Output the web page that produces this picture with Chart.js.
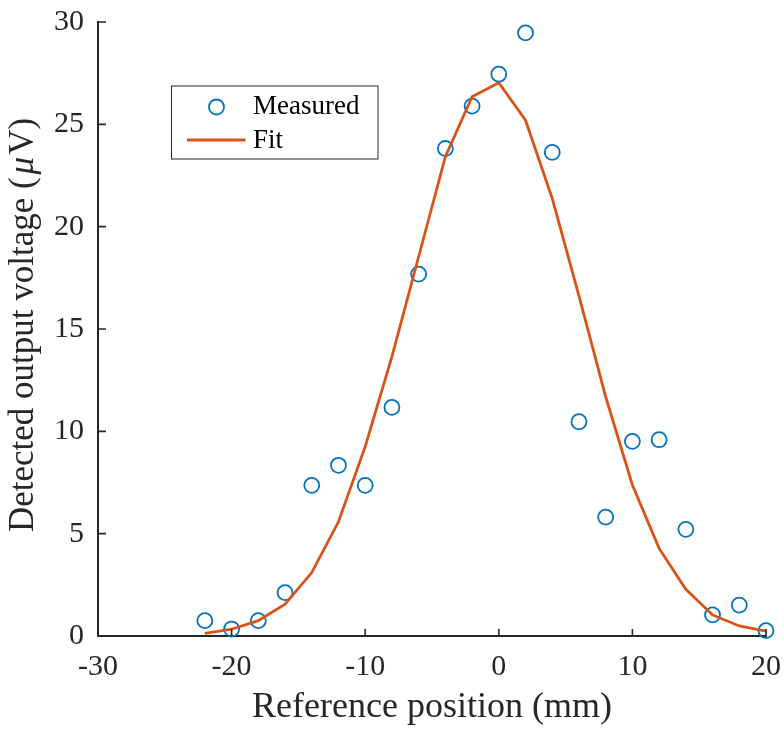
<!DOCTYPE html>
<html>
<head>
<meta charset="utf-8">
<script src="https://cdn.jsdelivr.net/npm/chart.js@4/dist/chart.umd.min.js"></script>
<style>
    html, body { margin: 0; padding: 0; background: #fff; }
    #wrap { width: 784px; height: 730px; }
</style>
</head>
<body>
<div id="wrap"><canvas id="profileChart" width="784" height="730"></canvas></div>
<script>
// posiciones (mm) y lecturas
const positions = [-22, -20, -18, -16, -14, -12, -10, -8, -6, -4, -2, 0, 2, 4, 6, 8, 10, 12, 14, 16, 18, 20];
const measured = [0.75, 0.34, 0.75, 2.12, 7.36, 8.34, 7.36, 11.17, 17.68, 23.82, 25.89, 27.45, 29.47, 23.63, 10.47, 5.81, 9.51, 9.59, 5.21, 1.03, 1.51, 0.26];
const fitted = [0.13, 0.33, 0.75, 1.56, 3.1, 5.58, 9.25, 13.65, 18.53, 23.42, 26.35, 27.03, 25.2, 21.38, 16.62, 11.69, 7.38, 4.28, 2.28, 1.03, 0.49, 0.24];
const xTicks = [-30, -20, -10, 0, 10, 20];
const yTicks = [0, 5, 10, 15, 20, 25, 30];

const SERIF = '"Liberation Serif", "Times New Roman", serif';
const AXIS_COLOR = '#262626';
const BLUE = '#0072BD';
const ORANGE = '#D95319';

// ticks hacia dentro, titulos y leyenda (estilo MATLAB)
const matlabDecor = {
    id: 'matlabDecor',
    afterDraw(chart) {
        const ctx = chart.ctx;
        const area = chart.chartArea;
        const xs = chart.scales.x;
        const ys = chart.scales.y;

        ctx.save();
        ctx.strokeStyle = AXIS_COLOR;
        ctx.lineWidth = 1.6;
        ctx.beginPath();
        xTicks.forEach(v => {
            const px = xs.getPixelForValue(v);
            ctx.moveTo(px, area.bottom);
            ctx.lineTo(px, area.bottom - 7);
        });
        yTicks.forEach(v => {
            const py = ys.getPixelForValue(v);
            ctx.moveTo(area.left, py);
            ctx.lineTo(area.left + 8, py);
        });
        ctx.stroke();

        // titulo eje x
        ctx.fillStyle = AXIS_COLOR;
        ctx.font = '36px ' + SERIF;
        ctx.textAlign = 'center';
        ctx.textBaseline = 'alphabetic';
        ctx.fillText('Reference position (mm)', (area.left + area.right) / 2, 717);

        // titulo eje y, con mu en cursiva
        const parts = [
            { t: 'Detected output voltage (', f: '35px ' + SERIF, gap: 3 },
            { t: 'μ', f: 'italic 35px ' + SERIF, gap: 2 },
            { t: 'V)', f: '35px ' + SERIF, gap: 0 }
        ];
        let total = 0;
        parts.forEach(p => { ctx.font = p.f; p.w = ctx.measureText(p.t).width; total += p.w + p.gap; });
        ctx.translate(33, (area.top + area.bottom) / 2 - 4);
        ctx.rotate(-Math.PI / 2);
        ctx.textAlign = 'left';
        let cx = -total / 2;
        parts.forEach(p => {
            ctx.font = p.f;
            ctx.fillText(p.t, cx, 0);
            cx += p.w + p.gap;
        });
        ctx.restore();

        // leyenda
        const lx = area.left + 73.5, ly = area.top + 64;
        const lw = 206.5, lh = 73;
        ctx.save();
        ctx.fillStyle = '#fff';
        ctx.fillRect(lx, ly, lw, lh);
        ctx.strokeStyle = AXIS_COLOR;
        ctx.lineWidth = 1;
        ctx.strokeRect(lx, ly, lw, lh);

        ctx.strokeStyle = BLUE;
        ctx.lineWidth = 1.8;
        ctx.beginPath();
        ctx.arc(lx + 45, ly + 21, 7.5, 0, Math.PI * 2);
        ctx.stroke();

        ctx.strokeStyle = ORANGE;
        ctx.lineWidth = 2.8;
        ctx.beginPath();
        ctx.moveTo(lx + 15.5, ly + 54);
        ctx.lineTo(lx + 74, ly + 54);
        ctx.stroke();

        ctx.fillStyle = '#000';
        ctx.font = '27px ' + SERIF;
        ctx.textAlign = 'left';
        ctx.textBaseline = 'middle';
        ctx.fillText('Measured', lx + 81.5, ly + 21);
        ctx.fillText('Fit', lx + 81.5, ly + 55);
        ctx.restore();
    }
};

const ctx = document.getElementById('profileChart').getContext('2d');
new Chart(ctx, {
    type: 'scatter',
    data: {
        datasets: [
            {
                label: 'Fit',
                type: 'line',
                data: positions.map((x, i) => ({ x: x, y: fitted[i] })),
                borderColor: ORANGE,
                borderWidth: 2.8,
                pointRadius: 0,
                tension: 0,
                fill: false,
                clip: false,
                order: 0
            },
            {
                label: 'Measured',
                data: positions.map((x, i) => ({ x: x, y: measured[i] })),
                borderColor: BLUE,
                backgroundColor: 'rgba(0,0,0,0)',
                borderWidth: 1.8,
                pointRadius: 7.5,
                pointStyle: 'circle',
                clip: false,
                order: 1
            }
        ]
    },
    options: {
        responsive: false,
        animation: false,
        layout: { padding: { top: 22, right: 18, left: 0, bottom: 0 } },
        plugins: {
            legend: { display: false },
            tooltip: { enabled: false }
        },
        scales: {
            x: {
                type: 'linear',
                min: -30,
                max: 20,
                afterBuildTicks: s => { s.ticks = xTicks.map(v => ({ value: v })); },
                afterFit: s => {
                    s.height = 94;
                    s.paddingLeft = 0;
                    s.paddingRight = 0;
                },
                grid: { display: false, drawTicks: false },
                border: { display: true, color: AXIS_COLOR, width: 2 },
                ticks: {
                    color: AXIS_COLOR,
                    font: { family: SERIF, size: 30 },
                    padding: 13,
                    maxRotation: 0
                }
            },
            y: {
                type: 'linear',
                min: 0,
                max: 30,
                afterBuildTicks: s => { s.ticks = yTicks.map(v => ({ value: v })); },
                afterFit: s => {
                    s.width = 98;
                    s.paddingTop = 0;
                    s.paddingBottom = 0;
                },
                grid: { display: false, drawTicks: false },
                border: { display: true, color: AXIS_COLOR, width: 2 },
                ticks: {
                    color: AXIS_COLOR,
                    font: { family: SERIF, size: 30 },
                    padding: 14
                }
            }
        }
    },
    plugins: [matlabDecor]
});
</script>
</body>
</html>
